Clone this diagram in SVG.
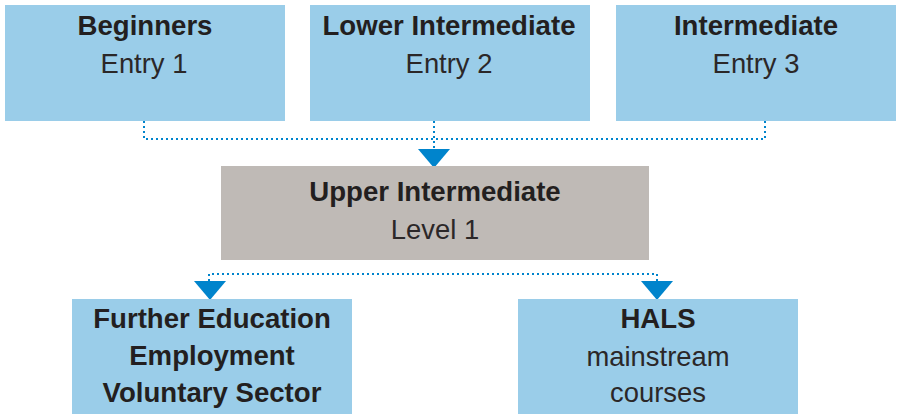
<svg xmlns="http://www.w3.org/2000/svg" width="898" height="414" viewBox="0 0 898 414">
<style>
.blue{fill:#9acde9}
.grey{fill:#bfbab6}
.b{font-family:"Liberation Sans",Arial,sans-serif;font-weight:bold;font-size:27.6px;fill:#231f20;text-anchor:middle}
.r{font-family:"Liberation Sans",Arial,sans-serif;font-size:27.4px;fill:#2b2728;text-anchor:middle}
.dot{fill:none;stroke:#0084cc;stroke-width:2;stroke-dasharray:2 3}
.arr{fill:#0084cc}
</style>
<g id="connectors">
<path class="dot" d="M144 121 V139 H765 V121"/>
<path class="dot" d="M434 121 V149"/>
<path class="dot" d="M209 281 V274 H657 V281"/>
<polygon class="arr" points="418,149 450,149 434,168"/>
<polygon class="arr" points="194,281 226,281 210,300"/>
<polygon class="arr" points="641,281 673,281 657,300"/>
</g>
<g id="beginners">
<rect class="blue" x="5" y="5" width="280" height="116"/>
<text class="b" x="145" y="35">Beginners</text>
<text class="r" x="144" y="73">Entry 1</text>
</g>
<g id="lower-intermediate">
<rect class="blue" x="310" y="5" width="280" height="116"/>
<text class="b" x="449" y="35">Lower Intermediate</text>
<text class="r" x="449" y="73">Entry 2</text>
</g>
<g id="intermediate">
<rect class="blue" x="616" y="5" width="280" height="116"/>
<text class="b" x="756" y="35">Intermediate</text>
<text class="r" x="756" y="73">Entry 3</text>
</g>
<g id="upper-intermediate">
<rect class="grey" x="221" y="166" width="428" height="94"/>
<text class="b" x="435" y="201">Upper Intermediate</text>
<text class="r" x="435" y="239">Level 1</text>
</g>
<g id="further-education">
<rect class="blue" x="72" y="299" width="280" height="115"/>
<text class="b" x="212" y="328">Further Education</text>
<text class="b" x="212" y="365">Employment</text>
<text class="b" x="212" y="402">Voluntary Sector</text>
</g>
<g id="hals">
<rect class="blue" x="518" y="299" width="280" height="115"/>
<text class="b" x="658" y="328">HALS</text>
<text class="r" x="658" y="366">mainstream</text>
<text class="r" x="658" y="402">courses</text>
</g>
</svg>
